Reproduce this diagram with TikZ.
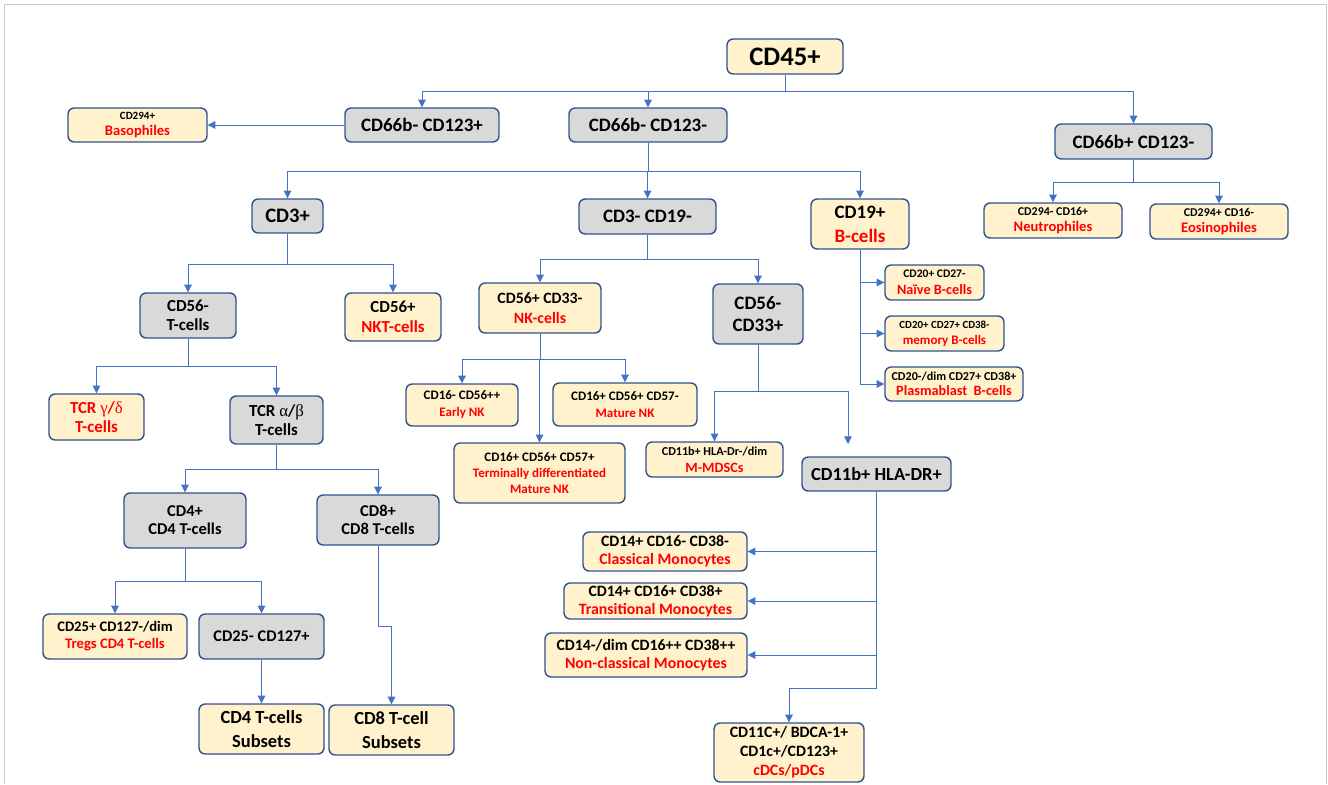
\documentclass[tikz,border=0pt]{standalone}
\usepackage{fontspec}
\setmainfont{Carlito}
\newfontfamily\greekfont{Liberation Serif}
\usetikzlibrary{positioning,arrows.meta}

\definecolor{gatefill}{HTML}{D9D9D9}
\definecolor{cellfill}{HTML}{FFF2CC}
\definecolor{boxblue}{HTML}{2F528F}
\definecolor{linkblue}{HTML}{4472C4}
\definecolor{cellred}{HTML}{FF0000}
\definecolor{framegray}{HTML}{C8C8C8}

\newcommand{\cellfont}[2]{\fontsize{#1}{#2}\selectfont\bfseries}
\newcommand{\popname}[1]{\textcolor{cellred}{#1}}

\tikzstyle{gatebox} = [rectangle, rounded corners=3.5pt, draw=boxblue, line width=0.8pt, fill=gatefill, align=center, inner sep=1pt, font=\bfseries]
\tikzstyle{popbox} = [gatebox, fill=cellfill]
\tikzstyle{link} = [draw=linkblue, line width=0.5pt]
\tikzstyle{arrow} = [link, -{Triangle[length=4.4pt,width=4.4pt]}]

\begin{document}
\begin{tikzpicture}[x=0.02cm, y=-0.02cm]

\useasboundingbox (0,0) rectangle (1328,784);
\draw[framegray, line width=1pt] (4.5,784) -- (4.5,4.5) -- (1326.5,4.5) -- (1326.5,784);

% top levels
\node (root) [popbox, minimum width=2.32cm, minimum height=0.70cm, font=\cellfont{15.2}{18}] at (785,56.5) {CD45+};
\node (neg123p) [gatebox, minimum width=3.08cm, minimum height=0.68cm, font=\cellfont{10.8}{12}] at (422,125) {CD66b- CD123+};
\node (baso) [popbox, minimum width=2.78cm, minimum height=0.68cm, font=\cellfont{8.3}{9.6}] at (137.5,125) {{\cellfont{6.3}{9.6}CD294+}\\ \popname{Basophiles}};
\node (neg123n) [gatebox, minimum width=3.16cm, minimum height=0.68cm, font=\cellfont{10.8}{12}] at (648,125) {CD66b- CD123-};
\node (pos123n) [gatebox, minimum width=3.14cm, minimum height=0.70cm, font=\cellfont{10.8}{12}] at (1133.5,141.5) {CD66b+ CD123-};
\node (neut) [popbox, minimum width=2.76cm, minimum height=0.70cm, font=\cellfont{8.3}{9.5}] at (1053,220.5) {{\cellfont{6.8}{9.5}CD294- CD16+}\\ \popname{Neutrophiles}};
\node (eos) [popbox, minimum width=2.76cm, minimum height=0.70cm, font=\cellfont{8.3}{9.5}] at (1219,221.5) {{\cellfont{6.8}{9.5}CD294+ CD16-}\\ \popname{Eosinophiles}};

% lineages
\node (cd3p) [gatebox, minimum width=1.42cm, minimum height=0.68cm, font=\cellfont{11.7}{13}] at (287.5,216) {CD3+};
\node (cd3n19n) [gatebox, minimum width=2.74cm, minimum height=0.70cm, font=\cellfont{10.8}{12}] at (647.5,216.5) {CD3- CD19-};
\node (cd19p) [popbox, minimum width=1.96cm, minimum height=1.00cm, font=\cellfont{10.8}{13.6}] at (860,224) {CD19+\\ \popname{B-cells}};

% T-cells
\node (cd56n) [gatebox, minimum width=1.92cm, minimum height=0.90cm, font=\cellfont{9.6}{10.8}] at (188,315.5) {CD56-\\ T-cells};
\node (nkt) [popbox, minimum width=1.92cm, minimum height=0.96cm, font=\cellfont{9.6}{11.3}] at (393,317) {CD56+\\ \popname{NKT-cells}};
\node (gd) [popbox, minimum width=1.90cm, minimum height=0.92cm, font=\cellfont{9.6}{10.8}] at (96.5,417) {\popname{TCR {\greekfont\mdseries γ}/{\greekfont\mdseries δ}}\\ \popname{T-cells}};
\node (ab) [gatebox, minimum width=1.86cm, minimum height=0.96cm, font=\cellfont{9.6}{10.8}] at (276.5,420) {TCR {\greekfont\mdseries α}/{\greekfont\mdseries β}\\ T-cells};
\node (cd4) [gatebox, minimum width=2.44cm, minimum height=1.10cm, font=\cellfont{9.4}{10.4}] at (185,520.5) {CD4+\\ CD4 T-cells};
\node (cd8) [gatebox, minimum width=2.44cm, minimum height=1.00cm, font=\cellfont{9.4}{10.4}] at (378,520) {CD8+\\ CD8 T-cells};
\node (treg) [popbox, minimum width=2.88cm, minimum height=0.90cm, font=\cellfont{8.3}{9.6}] at (115,636.5) {CD25+ CD127-/dim\\ \popname{Tregs CD4 T-cells}};
\node (cd25n) [gatebox, minimum width=2.50cm, minimum height=0.90cm, font=\cellfont{9.3}{10.5}] at (261.5,636.5) {CD25- CD127+};
\node (cd4sub) [popbox, minimum width=2.50cm, minimum height=1.00cm, font=\cellfont{10.5}{13.6}] at (261.5,729) {CD4 T-cells\\ Subsets};
\node (cd8sub) [popbox, minimum width=2.50cm, minimum height=1.00cm, font=\cellfont{10.5}{13.6}] at (391.5,730) {CD8 T-cell\\ Subsets};

% NK and myeloid
\node (nk) [popbox, minimum width=2.44cm, minimum height=1.00cm, font=\cellfont{9}{11.3}] at (540,308) {CD56+ CD33-\\ \popname{NK-cells}};
\node (cd33p) [gatebox, minimum width=1.80cm, minimum height=1.20cm, font=\cellfont{10.8}{12.5}] at (758,314) {CD56-\\ CD33+};
\node (early) [popbox, minimum width=2.24cm, minimum height=0.84cm, font=\cellfont{7.4}{9.6}] at (462,405) {CD16- CD56++\\ \popname{Early NK}};
\node (mature) [popbox, minimum width=2.88cm, minimum height=0.86cm, font=\cellfont{7.4}{9.6}] at (625,404.5) {CD16+ CD56+ CD57-\\ \popname{Mature NK}};
\node (term) [popbox, minimum width=3.42cm, minimum height=1.20cm, font=\cellfont{7.4}{9}] at (539.5,473) {CD16+ CD56+ CD57+\\ \popname{Terminally differentiated}\\ \popname{Mature NK}};
\node (mdsc) [popbox, minimum width=2.74cm, minimum height=0.70cm, font=\cellfont{8.1}{9.6}] at (714.5,459.5) {{\cellfont{6.9}{9.6}CD11b+ HLA-Dr-/dim}\\ \popname{M-MDSCs}};
\node (hladr) [gatebox, minimum width=2.98cm, minimum height=0.68cm, font=\cellfont{10.5}{12}] at (876.5,474) {CD11b+ HLA-DR+};

% B-cells
\node (naive) [popbox, minimum width=1.98cm, minimum height=0.70cm, font=\cellfont{8.1}{9.6}] at (934.5,282.5) {{\cellfont{6.6}{9.6}CD20+ CD27-}\\ \popname{Naïve B-cells}};
\node (memory) [popbox, minimum width=2.38cm, minimum height=0.70cm, font=\cellfont{7.4}{9}] at (944.5,333.5) {{\cellfont{6.2}{9}CD20+ CD27+ CD38-}\\ \popname{memory B-cells}};
\node (plasma) [popbox, minimum width=2.76cm, minimum height=0.68cm, font=\cellfont{8.1}{8.6}] at (954,384) {{\cellfont{6.9}{8.6}CD20-/dim CD27+ CD38+}\\ \popname{Plasmablast\ \ B-cells}};

% monocytes
\node (classical) [popbox, minimum width=3.28cm, minimum height=0.78cm, font=\cellfont{9}{10.2}] at (665,551.5) {CD14+ CD16- CD38-\\ \popname{Classical Monocytes}};
\node (trans) [popbox, minimum width=3.66cm, minimum height=0.72cm, font=\cellfont{9}{10.2}] at (655.5,601) {CD14+ CD16+ CD38+\\ \popname{Transitional Monocytes}};
\node (nonclass) [popbox, minimum width=4.04cm, minimum height=0.88cm, font=\cellfont{9}{10.2}] at (646,655) {CD14-/dim CD16++ CD38++\\ \popname{Non-classical Monocytes}};
\node (cdc) [popbox, minimum width=3.00cm, minimum height=1.18cm, font=\cellfont{9}{10.8}] at (789,752.5) {CD11C+/ BDCA-1+\\ CD1c+/CD123+\\ \popname{cDCs/pDCs}};

% branch points
\coordinate (j1) at (785,91);
\coordinate (j2) at (648,171);
\coordinate (j3) at (1133.5,182);
\coordinate (j4) at (287.5,264);
\coordinate (j5) at (188,366);
\coordinate (j6) at (276.5,469);
\coordinate (j7) at (185,581);
\coordinate (j8) at (378,626);
\coordinate (j9) at (647.5,259);
\coordinate (j10) at (540,359);
\coordinate (j11) at (758,391);
\coordinate (j13) at (876.5,688);

\draw [link] (root) -- (j1);
\draw [arrow] (j1) -| (neg123p);
\draw [arrow] (j1) -| (neg123n);
\draw [arrow] (j1) -| (pos123n);
\draw [arrow] (neg123p) -- (baso);

\draw [link] (pos123n) -- (j3);
\draw [arrow] (j3) -| (neut);
\draw [arrow] (j3) -| (eos);

\draw [link] (neg123n) -- (j2);
\draw [arrow] (j2) -| (cd3p);
\draw [arrow] (j2) -| (cd3n19n);
\draw [arrow] (j2) -| (cd19p);

\draw [link] (cd3p) -- (j4);
\draw [arrow] (j4) -| (cd56n);
\draw [arrow] (j4) -| (nkt);
\draw [link] (cd56n) -- (j5);
\draw [arrow] (j5) -| (gd);
\draw [arrow] (j5) -| (ab);
\draw [link] (ab) -- (j6);
\draw [arrow] (j6) -| (cd4);
\draw [arrow] (j6) -| (cd8);
\draw [link] (cd4) -- (j7);
\draw [arrow] (j7) -| (treg);
\draw [arrow] (j7) -| (cd25n);
\draw [arrow] (cd25n) -- (cd4sub);
\draw [arrow] (cd8) -- (j8) -| (cd8sub);

\draw [link] (cd3n19n) -- (j9);
\draw [arrow] (j9) -| (nk);
\draw [arrow] (j9) -| (cd33p);
\draw [link] (nk) -- (j10);
\draw [arrow] (j10) -| (early);
\draw [arrow] (j10) -| (mature);
\draw [arrow] (j10) -| (term);
\draw [link] (cd33p) -- (j11);
\draw [arrow] (j11) -| (mdsc);
\draw [arrow, shorten >=7pt] (j11) -| ([xshift=-0.57cm]hladr.north);

\draw [arrow] (cd19p.south) |- (naive);
\draw [arrow] (cd19p.south) |- (memory);
\draw [arrow] (cd19p.south) |- (plasma);

\draw [arrow] (hladr.south) |- (classical);
\draw [arrow] (hladr.south) |- (trans);
\draw [arrow] (hladr.south) |- (nonclass);
\draw [arrow] (hladr) -- (j13) -| (cdc);

\end{tikzpicture}
\end{document}
